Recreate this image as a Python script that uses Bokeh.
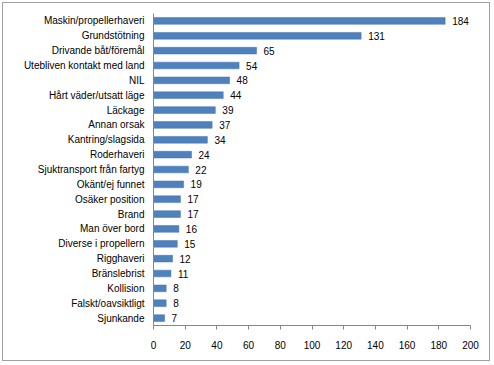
from bokeh.plotting import figure
from bokeh.models import ColumnDataSource, FixedTicker, Range1d
from bokeh.embed import file_html
from bokeh.resources import INLINE
from bokeh.core.properties import value

categories = ["Maskin/propellerhaveri", "Grundstötning", "Drivande båt/föremål",
              "Utebliven kontakt med land", "NIL", "Hårt väder/utsatt läge",
              "Läckage", "Annan orsak", "Kantring/slagsida", "Roderhaveri",
              "Sjuktransport från fartyg", "Okänt/ej funnet", "Osäker position",
              "Brand", "Man över bord", "Diverse i propellern", "Rigghaveri",
              "Bränslebrist", "Kollision", "Falskt/oavsiktligt", "Sjunkande"]
counts = [184, 131, 65, 54, 48, 44, 39, 37, 34, 24, 22, 19, 17, 17, 16, 15, 12, 11, 8, 8, 7]
x_ticks = [0, 20, 40, 60, 80, 100, 120, 140, 160, 180, 200]

src = ColumnDataSource(dict(cat=categories, val=counts, lab=[str(v) for v in counts]))

p = figure(width=488, height=359, y_range=list(reversed(categories)),
           x_range=Range1d(0, 200), output_backend="svg", toolbar_location=None,
           min_border_left=150, min_border_right=21, min_border_top=10, min_border_bottom=37)
p.styles = {"border": "1px solid #a0a0a0", "margin": "2px"}
p.outline_line_color = None
p.xgrid.grid_line_color = None
p.ygrid.grid_line_color = None

p.hbar(y="cat", right="val", left=0, height=0.45, source=src,
       fill_color="#4F81BD", line_color="#4573AE", line_width=0.5)
p.text(x="val", y="cat", text="lab", source=src, x_offset=7, text_baseline="middle",
       text_align="left", text_font=value("Liberation Sans"), text_font_size="10px",
       text_color="black")

p.xaxis.ticker = FixedTicker(ticks=x_ticks)
for ax in (p.xaxis, p.yaxis):
    ax.axis_line_color = "#868686"
    ax.major_tick_line_color = "#868686"
    ax.minor_tick_line_color = None
    ax.major_label_text_font = "Liberation Sans"
    ax.major_label_text_font_size = "10px"
    ax.major_label_text_color = "black"
p.xaxis.major_tick_out = 4
p.xaxis.major_tick_in = 0
p.xaxis.major_label_standoff = 11
p.yaxis.major_tick_out = 0
p.yaxis.major_tick_in = 0
p.yaxis.major_label_standoff = 9

open("out.html", "w").write(file_html(p, INLINE))
